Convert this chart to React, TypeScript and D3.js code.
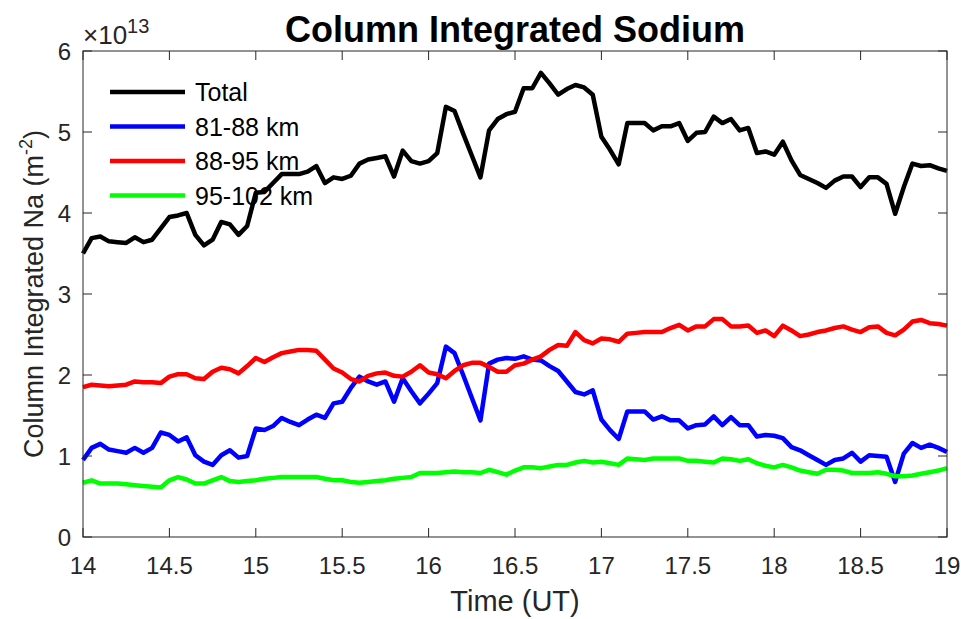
import { useEffect, useRef } from 'react';
import * as d3 from 'd3';

// time in UT hours (3 min cadence)
const time = [
  14.0, 14.05, 14.1, 14.15, 14.2, 14.25, 14.3, 14.35, 14.4, 14.45,
  14.5, 14.55, 14.6, 14.65, 14.7, 14.75, 14.8, 14.85, 14.9, 14.95,
  15.0, 15.05, 15.1, 15.15, 15.2, 15.25, 15.3, 15.35, 15.4, 15.45,
  15.5, 15.55, 15.6, 15.65, 15.7, 15.75, 15.8, 15.85, 15.9, 15.95,
  16.0, 16.05, 16.1, 16.15, 16.2, 16.25, 16.3, 16.35, 16.4, 16.45,
  16.5, 16.55, 16.6, 16.65, 16.7, 16.75, 16.8, 16.85, 16.9, 16.95,
  17.0, 17.05, 17.1, 17.15, 17.2, 17.25, 17.3, 17.35, 17.4, 17.45,
  17.5, 17.55, 17.6, 17.65, 17.7, 17.75, 17.8, 17.85, 17.9, 17.95,
  18.0, 18.05, 18.1, 18.15, 18.2, 18.25, 18.3, 18.35, 18.4, 18.45,
  18.5, 18.55, 18.6, 18.65, 18.7, 18.75, 18.8, 18.85, 18.9, 18.95,
  19.0,
];

// column abundance, units of 1e13 m^-2
const total = [
  3.50, 3.69, 3.71, 3.65, 3.64, 3.63, 3.70, 3.64, 3.67, 3.81,
  3.95, 3.97, 4.00, 3.73, 3.60, 3.67, 3.89, 3.86, 3.73, 3.84,
  4.25, 4.26, 4.37, 4.48, 4.48, 4.48, 4.51, 4.58, 4.37, 4.44,
  4.42, 4.46, 4.61, 4.66, 4.68, 4.70, 4.45, 4.77, 4.64, 4.61,
  4.64, 4.74, 5.31, 5.26, 4.98, 4.71, 4.44, 5.02, 5.16, 5.22,
  5.25, 5.54, 5.54, 5.73, 5.60, 5.46, 5.53, 5.58, 5.55, 5.46,
  4.94, 4.78, 4.60, 5.11, 5.11, 5.11, 5.02, 5.07, 5.07, 5.11,
  4.89, 4.99, 5.00, 5.19, 5.11, 5.16, 5.02, 5.05, 4.74, 4.76,
  4.72, 4.88, 4.65, 4.47, 4.42, 4.37, 4.31, 4.40, 4.45, 4.45,
  4.32, 4.44, 4.44, 4.36, 3.99, 4.32, 4.61, 4.58, 4.59, 4.55,
  4.52,
];

const band81_88 = [
  0.95, 1.10, 1.15, 1.08, 1.06, 1.04, 1.10, 1.04, 1.10, 1.29,
  1.26, 1.18, 1.23, 1.01, 0.93, 0.89, 1.01, 1.07, 0.98, 1.00,
  1.34, 1.32, 1.37, 1.47, 1.42, 1.38, 1.45, 1.51, 1.47, 1.65,
  1.67, 1.84, 1.98, 1.92, 1.88, 1.92, 1.67, 1.96, 1.80, 1.65,
  1.77, 1.90, 2.35, 2.27, 2.00, 1.72, 1.44, 2.14, 2.19, 2.21,
  2.20, 2.23, 2.19, 2.18, 2.11, 2.05, 1.92, 1.79, 1.76, 1.81,
  1.45, 1.32, 1.21, 1.55, 1.55, 1.55, 1.45, 1.49, 1.44, 1.44,
  1.34, 1.38, 1.39, 1.49, 1.38, 1.48, 1.38, 1.38, 1.24, 1.26,
  1.25, 1.22, 1.11, 1.07, 1.01, 0.95, 0.89, 0.95, 0.97, 1.04,
  0.93, 1.01, 1.00, 0.99, 0.68, 1.03, 1.16, 1.10, 1.14, 1.10,
  1.05,
];

const band88_95 = [
  1.85, 1.88, 1.87, 1.86, 1.87, 1.88, 1.92, 1.91, 1.91, 1.90,
  1.98, 2.01, 2.01, 1.96, 1.95, 2.04, 2.09, 2.07, 2.02, 2.11,
  2.21, 2.16, 2.22, 2.27, 2.29, 2.31, 2.31, 2.30, 2.19, 2.08,
  2.03, 1.95, 1.92, 1.99, 2.02, 2.03, 1.99, 1.98, 2.04, 2.12,
  2.03, 2.01, 1.96, 2.05, 2.12, 2.15, 2.15, 2.10, 2.04, 2.04,
  2.12, 2.14, 2.19, 2.23, 2.31, 2.37, 2.36, 2.53, 2.43, 2.39,
  2.45, 2.44, 2.41, 2.51, 2.52, 2.53, 2.53, 2.53, 2.58, 2.62,
  2.55, 2.60, 2.60, 2.69, 2.69, 2.60, 2.60, 2.61, 2.52, 2.55,
  2.48, 2.61, 2.55, 2.48, 2.50, 2.53, 2.55, 2.58, 2.60, 2.56,
  2.53, 2.59, 2.60, 2.52, 2.49, 2.56, 2.66, 2.68, 2.64, 2.63,
  2.61,
];

const band95_102 = [
  0.67, 0.70, 0.66, 0.66, 0.66, 0.65, 0.64, 0.63, 0.62, 0.61,
  0.70, 0.74, 0.71, 0.66, 0.66, 0.70, 0.74, 0.69, 0.68, 0.69,
  0.70, 0.72, 0.73, 0.74, 0.74, 0.74, 0.74, 0.74, 0.72, 0.70,
  0.70, 0.68, 0.67, 0.68, 0.69, 0.70, 0.72, 0.73, 0.74, 0.79,
  0.79, 0.79, 0.80, 0.81, 0.80, 0.80, 0.79, 0.83, 0.80, 0.77,
  0.82, 0.86, 0.86, 0.85, 0.87, 0.89, 0.89, 0.92, 0.94, 0.92,
  0.93, 0.91, 0.89, 0.97, 0.96, 0.95, 0.97, 0.97, 0.97, 0.97,
  0.94, 0.94, 0.93, 0.92, 0.97, 0.96, 0.94, 0.96, 0.91, 0.88,
  0.86, 0.89, 0.86, 0.82, 0.80, 0.78, 0.83, 0.83, 0.82, 0.79,
  0.79, 0.79, 0.80, 0.78, 0.75, 0.75, 0.76, 0.78, 0.80, 0.82,
  0.85,
];

const seriesNames = ['Total', '81-88 km', '88-95 km', '95-102 km'];
const seriesColors = ['#000000', '#0000ff', '#ff0000', '#00ff00'];
const xTicks = [14, 14.5, 15, 15.5, 16, 16.5, 17, 17.5, 18, 18.5, 19];
const yTicks = [0, 1, 2, 3, 4, 5, 6];

const FONT = '"Liberation Sans", Arial, Helvetica, sans-serif';

export default function App() {
  const svgRef = useRef<SVGSVGElement>(null);

  useEffect(() => {
    if (!svgRef.current) return;
    const svg = d3.select(svgRef.current);
    svg.selectAll('*').remove();

    const margin = { top: 51, right: 14, bottom: 82, left: 83 };
    const W = 961, H = 619;
    const width = W - margin.left - margin.right;
    const height = H - margin.top - margin.bottom;

    const x = d3.scaleLinear().domain([14, 19]).range([0, width]);
    const y = d3.scaleLinear().domain([0, 6]).range([height, 0]);

    const g = svg.append('g').attr('transform', `translate(${margin.left},${margin.top})`);

    // series lines
    const allSeries = [total, band81_88, band88_95, band95_102];
    const line = d3.line<number>()
      .x((_, i) => x(time[i]))
      .y(d => y(d));

    allSeries.forEach((vals, k) => {
      g.append('path')
        .datum(vals)
        .attr('fill', 'none')
        .attr('stroke', seriesColors[k])
        .attr('stroke-width', 4.5)
        .attr('stroke-linejoin', 'round')
        .attr('d', line);
    });

    // box + inward ticks on all four sides (matlab style)
    const axisColor = '#262626';
    const tickLen = 9;
    const box = g.append('g').attr('stroke', axisColor).attr('stroke-width', 1).attr('fill', 'none');
    box.append('rect').attr('x', 0).attr('y', 0).attr('width', width).attr('height', height);
    xTicks.forEach(t => {
      box.append('line').attr('x1', x(t)).attr('x2', x(t)).attr('y1', height).attr('y2', height - tickLen);
      box.append('line').attr('x1', x(t)).attr('x2', x(t)).attr('y1', 0).attr('y2', tickLen);
    });
    yTicks.forEach(t => {
      box.append('line').attr('x1', 0).attr('x2', tickLen).attr('y1', y(t)).attr('y2', y(t));
      box.append('line').attr('x1', width).attr('x2', width - tickLen).attr('y1', y(t)).attr('y2', y(t));
    });

    // tick labels
    g.selectAll('.xlab')
      .data(xTicks)
      .enter()
      .append('text')
      .attr('x', d => x(d))
      .attr('y', height + 37)
      .attr('text-anchor', 'middle')
      .attr('fill', axisColor)
      .style('font-family', FONT)
      .style('font-size', '24px')
      .text(d => String(d));

    g.selectAll('.ylab')
      .data(yTicks)
      .enter()
      .append('text')
      .attr('x', -12)
      .attr('y', d => y(d) + 9)
      .attr('text-anchor', 'end')
      .attr('fill', axisColor)
      .style('font-family', FONT)
      .style('font-size', '24px')
      .text(d => String(d));

    // exponent label
    const expo = g.append('text')
      .attr('x', 0)
      .attr('y', -7)
      .attr('fill', axisColor)
      .style('font-family', FONT)
      .style('font-size', '26px');
    expo.append('tspan').text('\u00d710');
    expo.append('tspan').attr('dy', -11).style('font-size', '20px').text('13');

    // axis titles
    g.append('text')
      .attr('x', width / 2)
      .attr('y', height + 74)
      .attr('text-anchor', 'middle')
      .attr('fill', axisColor)
      .style('font-family', FONT)
      .style('font-size', '29px')
      .text('Time (UT)');

    const yl = g.append('text')
      .attr('transform', `translate(-40,${height / 2}) rotate(-90)`)
      .attr('text-anchor', 'middle')
      .attr('fill', axisColor)
      .style('font-family', FONT)
      .style('font-size', '27px');
    yl.append('tspan').text('Column Integrated Na (m');
    yl.append('tspan').attr('dy', -11).style('font-size', '18px').text('-2');
    yl.append('tspan').attr('dy', 11).text(')');

    // title
    svg.append('text')
      .attr('x', margin.left + width / 2)
      .attr('y', 42)
      .attr('text-anchor', 'middle')
      .attr('fill', '#000')
      .style('font-family', FONT)
      .style('font-size', '36px')
      .style('font-weight', 'bold')
      .text('Column Integrated Sodium');

    // legend
    const legend = g.append('g').attr('transform', 'translate(27,41)');
    seriesNames.forEach((name, i) => {
      const ly = i * 34.5;
      legend.append('line')
        .attr('x1', 0).attr('x2', 75).attr('y1', ly).attr('y2', ly)
        .attr('stroke', seriesColors[i]).attr('stroke-width', 4.5);
      legend.append('text')
        .attr('x', 85).attr('y', ly + 9)
        .attr('fill', '#000')
        .style('font-family', FONT)
        .style('font-size', '25px')
        .text(name);
    });
  }, []);

  return (
    <svg
      ref={svgRef}
      width={961}
      height={619}
      style={{ position: 'absolute', left: 0, top: 0, background: '#fff' }}
    />
  );
}
